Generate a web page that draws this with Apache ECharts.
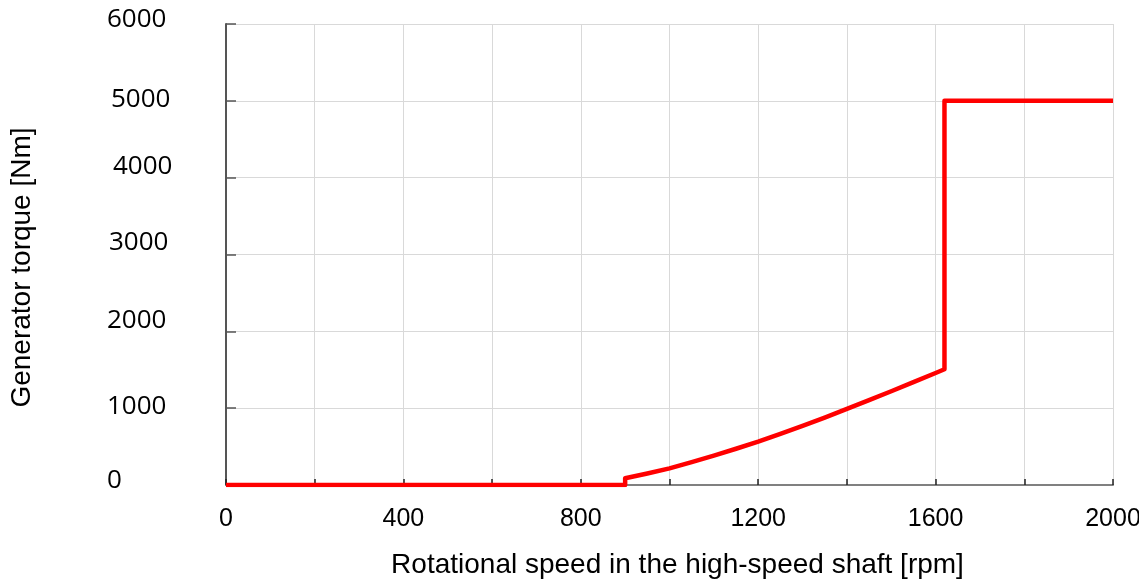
<!DOCTYPE html>
<html>
<head>
<meta charset="utf-8">
<script src="https://cdn.jsdelivr.net/npm/echarts@6/dist/echarts.min.js"></script>
<style>html,body{margin:0;padding:0;background:#fff}#c{width:1139px;height:580px}</style>
</head>
<body>
<div id="c"></div>
<script>
// Data
const speed = [0, 900, 900, 950, 1000, 1050, 1100, 1150, 1200, 1250, 1300, 1350, 1400, 1450, 1500, 1550, 1600, 1620, 1620, 2000];
const torque = [0, 0, 87, 150, 217, 297, 382, 472, 564, 665, 770, 878, 990, 1104, 1220, 1338, 1458, 1506, 5000, 5000];
const xTickLabels = [0, 400, 800, 1200, 1600, 2000];
const yTickLabels = [0, 1000, 2000, 3000, 4000, 5000, 6000];
const xTitle = 'Rotational speed in the high-speed shaft [rpm]';
const yTitle = 'Generator torque [Nm]';

// label nudges (style only)
const yNudge = {
  0: {up: 4, right: 0}, 1000: {up: 2, right: 0}, 2000: {up: 11, right: 0},
  3000: {up: 12, right: 2}, 4000: {up: 11, right: 6}, 5000: {up: 1, right: 4},
  6000: {up: 4, right: 0}
};
const rich = {};
yTickLabels.forEach(v => {
  const n = yNudge[v];
  rich['y' + v] = {
    fontFamily: 'Open Sans', fontSize: 26, color: '#000',
    padding: [0, 0, 2 * n.up, n.right], align: 'left'
  };
});

const chart = echarts.init(document.getElementById('c'), null, {renderer: 'canvas'});
chart.setOption({
  animation: false,
  backgroundColor: '#fff',
  grid: {left: 226, right: 26, top: 24, bottom: 95, containLabel: false, outerBoundsMode: 'none'},
  xAxis: {
    type: 'value', min: 0, max: 2000, interval: 200,
    name: xTitle, nameLocation: 'middle', nameGap: 66,
    nameTextStyle: {fontFamily: 'Liberation Sans', fontSize: 28, color: '#000', padding: [0, 0, 0, 16]},
    axisLine: {show: true, onZero: false, lineStyle: {color: '#808080', width: 2}},
    axisTick: {show: true, inside: true, length: 6, lineStyle: {color: '#222', width: 1.5}},
    axisLabel: {
      margin: 22, fontFamily: 'Liberation Sans', fontSize: 25, color: '#000',
      formatter: v => (xTickLabels.indexOf(v) >= 0 ? String(v) : '')
    },
    splitLine: {show: true, lineStyle: {color: '#d9d9d9', width: 1}}
  },
  yAxis: {
    type: 'value', min: 0, max: 6000, interval: 1000,
    name: yTitle, nameLocation: 'middle', nameGap: 190,
    nameTextStyle: {fontFamily: 'Liberation Sans', fontSize: 28, color: '#000', padding: [0, 26, 0, 0]},
    axisLine: {show: true, lineStyle: {color: '#555', width: 2}},
    axisTick: {show: true, inside: true, length: 10, lineStyle: {color: '#555', width: 1.5}},
    axisLabel: {
      margin: 119, align: 'left',
      formatter: v => '{y' + v + '|' + v + '}',
      rich: rich
    },
    splitLine: {show: true, lineStyle: {color: '#d9d9d9', width: 1}}
  },
  series: [{
    type: 'line',
    data: speed.map((s, i) => [s, torque[i]]),
    showSymbol: false,
    smooth: false,
    lineStyle: {color: '#ff0000', width: 4.5, join: 'round'},
    itemStyle: {color: '#ff0000'},
    z: 5
  }]
});
</script>
</body>
</html>
